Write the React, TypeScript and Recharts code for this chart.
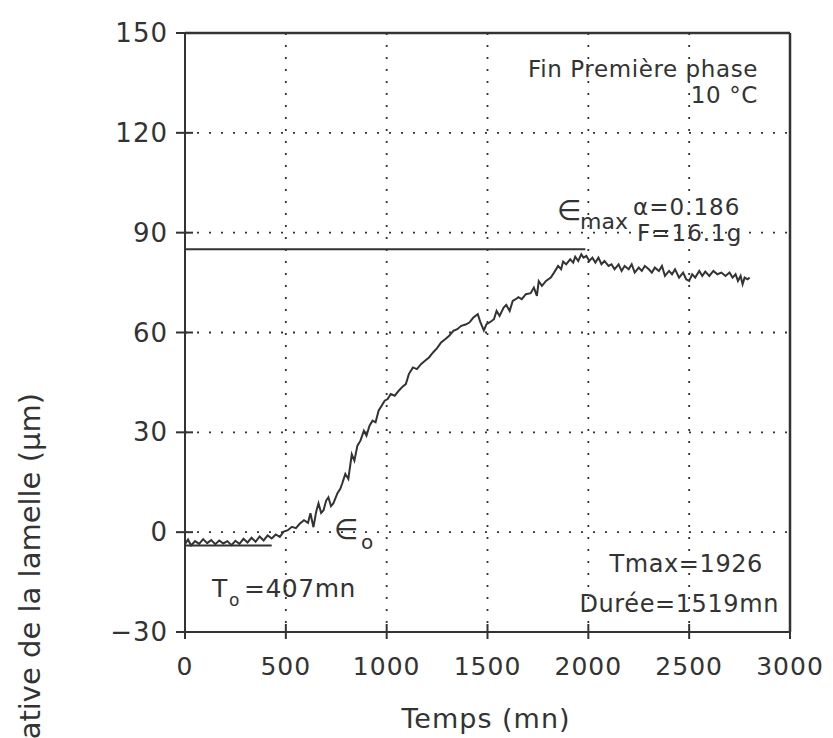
import React from "react";
import { CartesianGrid, Line, LineChart, ReferenceLine, XAxis, YAxis } from "recharts";

// temps (mn) / flèche (µm)
const times = [
  0, 15, 30, 50, 70, 90, 110, 130, 150, 170, 190, 210, 230, 250, 270, 290, 310, 330, 350, 370, 390, 410, 430, 450,
  470, 490, 510, 530, 550, 570, 590, 610, 622, 637, 650, 662, 675, 687, 700, 711, 724, 736, 756, 770, 780, 795, 810,
  827, 840, 855, 870, 887, 900, 915, 930, 945, 960, 975, 990, 1005, 1020, 1040, 1060, 1080, 1095, 1110, 1130, 1150,
  1170, 1190, 1210, 1230, 1250, 1270, 1290, 1310, 1331, 1350, 1370, 1391, 1410, 1430, 1452, 1465, 1482, 1495, 1510,
  1532, 1545, 1560, 1580, 1593, 1610, 1625, 1640, 1653, 1670, 1690, 1714, 1730, 1745, 1754, 1770, 1790, 1814, 1830,
  1850, 1865, 1875, 1890, 1910, 1925, 1935, 1950, 1965, 1976, 1990, 2005, 2020, 2035, 2050, 2065, 2080, 2100, 2115,
  2130, 2150, 2165, 2180, 2200, 2215, 2230, 2250, 2265, 2280, 2300, 2315, 2330, 2350, 2365, 2380, 2400, 2415, 2430,
  2450, 2470, 2485, 2500, 2515, 2530, 2550, 2565, 2580, 2600, 2620, 2640, 2660, 2680, 2700, 2715, 2730, 2742, 2755,
  2765, 2775, 2790, 2800
];
const deflection = [
  -3.6, -2.2, -4.0, -2.7, -3.5, -2.1, -3.3, -2.4, -3.6, -2.5, -3.4, -2.7, -3.9, -2.6, -3.5, -2.0, -3.1, -1.7, -2.9,
  -1.3, -2.5, -1.0, -1.9, -0.7, -1.4, 0.2, 0.6, 1.6, 1.2, 2.6, 3.6, 2.8, 5.7, 1.5, 6.0, 8.7, 5.8, 6.6, 9.5, 10.5, 7.8,
  8.7, 11.7, 13.0, 14.7, 17.5, 16.0, 23.4, 21.5, 26.0, 27.5, 30.5, 29.0, 32.0, 33.5, 33.0, 36.5, 38.0, 39.5, 40.0,
  41.5, 41.0, 42.5, 43.8, 44.5, 47.5, 49.5, 49.0, 50.5, 51.5, 52.5, 54.0, 55.3, 57.0, 58.0, 59.0, 60.5, 61.0, 62.0,
  62.4, 63.0, 64.5, 65.5, 63.0, 60.6, 62.5, 63.0, 64.0, 66.5, 65.0, 67.5, 68.3, 66.5, 69.5, 70.0, 70.6, 70.0, 71.5,
  71.8, 73.5, 71.0, 75.4, 74.0, 75.5, 76.5, 78.0, 80.0, 79.0, 81.3, 80.5, 82.0, 81.0, 82.8, 81.5, 83.5, 82.5, 83.0,
  81.5, 82.5, 81.0, 82.5, 80.5, 81.5, 80.0, 80.5, 79.0, 80.5, 78.5, 80.0, 79.0, 80.5, 78.0, 79.5, 78.5, 80.0, 79.0,
  78.0, 79.5, 78.5, 80.0, 77.0, 78.5, 77.5, 79.0, 76.5, 78.0, 76.0, 75.5, 77.5, 76.5, 78.5, 77.0, 78.3, 77.0, 78.5,
  77.5, 78.0, 77.0, 78.0, 76.5, 77.5, 75.5, 77.0, 74.5, 76.5, 76.0, 76.5
];

const xTicks = [0, 500, 1000, 1500, 2000, 2500, 3000];
const yTicks = [-30, 0, 30, 60, 90, 120, 150];
const xGrid = [500, 1000, 1500, 2000, 2500];
const yGrid = [0, 30, 60, 90, 120];

const epsMax = 85;
const epsMaxEnd = 1985;
const eps0 = -4;
const eps0End = 430;

const data = times.map((t, i) => ({ t, v: deflection[i] }));

const ink = "#333";
const font = "DejaVu Sans";

const XTick = (props: any) => {
  const { x, y, payload } = props;
  return (
    <g>
      <line x1={x} x2={x} y1={y - 8} y2={y + 7} stroke={ink} strokeWidth={2} />
      <text x={x} y={y + 43} textAnchor="middle" fontFamily={font} fontSize={25} letterSpacing={1} fill={ink}>
        {payload.value}
      </text>
    </g>
  );
};

const YTick = (props: any) => {
  const { x, y, payload } = props;
  const label = payload.value < 0 ? `\u2212${-payload.value}` : `${payload.value}`;
  return (
    <g>
      <line x1={x - 9} x2={x + 8} y1={y} y2={y} stroke={ink} strokeWidth={2} />
      <text x={x - 17} y={y + 9} textAnchor="end" fontFamily={font} fontSize={26} letterSpacing={1} fill={ink}>
        {label}
      </text>
    </g>
  );
};

export default function App() {
  const t = { fontFamily: font, fill: ink };
  return (
    <div style={{ position: "absolute", left: 0, top: 0, background: "#fff" }}>
      <LineChart width={833} height={738} data={data} margin={{ top: 33, right: 43, bottom: 76, left: 0 }}>
        <CartesianGrid
          stroke={ink}
          strokeWidth={1.8}
          strokeDasharray="2 10"
          horizontalValues={yGrid}
          verticalValues={xGrid}
        />
        <XAxis
          type="number"
          dataKey="t"
          domain={[0, 3000]}
          ticks={xTicks}
          tick={<XTick />}
          tickLine={false}
          tickSize={0}
          tickMargin={0}
          axisLine={{ stroke: ink, strokeWidth: 2 }}
          allowDataOverflow
        />
        <YAxis
          width={185}
          type="number"
          domain={[-30, 150]}
          ticks={yTicks}
          tick={<YTick />}
          tickLine={false}
          tickSize={0}
          tickMargin={0}
          axisLine={{ stroke: ink, strokeWidth: 2 }}
          allowDataOverflow
        />
        <ReferenceLine y={150} stroke={ink} strokeWidth={2.5} />
        <ReferenceLine x={3000} stroke={ink} strokeWidth={2.5} />
        <ReferenceLine segment={[{ x: 0, y: epsMax }, { x: epsMaxEnd, y: epsMax }]} stroke={ink} strokeWidth={2} />
        <ReferenceLine segment={[{ x: 0, y: eps0 }, { x: eps0End, y: eps0 }]} stroke={ink} strokeWidth={1.8} />
        <Line
          type="linear"
          dataKey="v"
          stroke={ink}
          strokeWidth={2}
          dot={false}
          isAnimationActive={false}
        />
        <text {...t} x={758} y={77} fontSize={23} letterSpacing={0.6} textAnchor="end">
          Fin Première phase
        </text>
        <text {...t} x={758} y={103} fontSize={23} letterSpacing={0.6} textAnchor="end">
          10 °C
        </text>
        <text {...t} x={557} y={220} fontSize={28}>
          ∈
        </text>
        <text {...t} x={580} y={229} fontSize={22}>
          max
        </text>
        <text {...t} x={633} y={215} fontSize={23} letterSpacing={1}>
          α=0.186
        </text>
        <text {...t} x={637} y={241} fontSize={23} letterSpacing={1}>
          F=16.1g
        </text>
        <text {...t} x={334} y={539} fontSize={28}>
          ∈
        </text>
        <text {...t} x={361} y={549} fontSize={20}>
          o
        </text>
        <text {...t} x={212} y={597} fontSize={25}>
          T
        </text>
        <text {...t} x={229} y={606} fontSize={17}>
          o
        </text>
        <text {...t} x={244} y={597} fontSize={25} letterSpacing={0.5}>
          =407mn
        </text>
        <text {...t} x={763} y={572} fontSize={24} letterSpacing={0.6} textAnchor="end">
          Tmax=1926
        </text>
        <text {...t} x={779} y={612} fontSize={24} letterSpacing={0.6} textAnchor="end">
          Durée=1519mn
        </text>
        <text {...t} x={486} y={728} fontSize={27} letterSpacing={1} textAnchor="middle">
          Temps (mn)
        </text>
        <text {...t} x={40} y={393} fontSize={29} textAnchor="end" transform="rotate(-90 40 393)">
          Flèche relative de la lamelle (µm)
        </text>
      </LineChart>
    </div>
  );
}
